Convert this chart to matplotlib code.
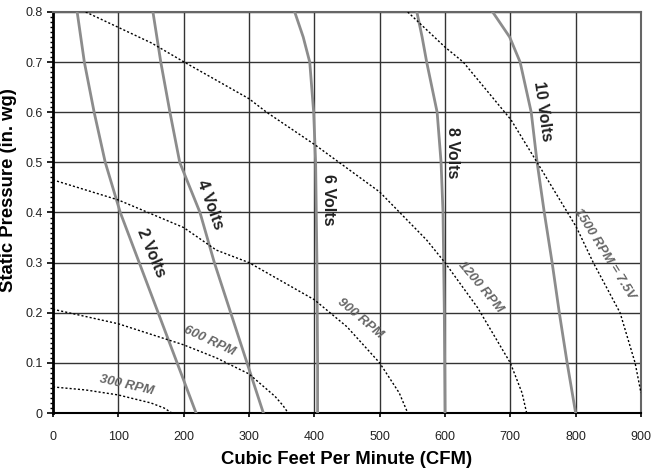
import matplotlib.pyplot as plt
from matplotlib.ticker import MultipleLocator

plt.rcParams['font.family'] = ['Liberation Sans', 'DejaVu Sans']

# voltage curves (CFM, static pressure)
v2_x = [37, 48, 63, 80, 103, 132, 161, 190, 219]
v2_y = [0.8, 0.7, 0.6, 0.5, 0.4, 0.3, 0.2, 0.1, 0.0]
v4_x = [153, 165, 179, 194, 225, 247, 272, 297, 322]
v4_y = [0.8, 0.7, 0.6, 0.5, 0.4, 0.3, 0.2, 0.1, 0.0]
v6_x = [370, 383, 393, 399, 402, 404, 405, 405]
v6_y = [0.8, 0.75, 0.7, 0.6, 0.5, 0.3, 0.1, 0.0]
v8_x = [557, 565, 572, 588, 594, 597, 599, 600]
v8_y = [0.8, 0.75, 0.7, 0.6, 0.5, 0.4, 0.2, 0.0]
v10_x = [673, 699, 715, 732, 741, 752, 764, 775, 787, 800]
v10_y = [0.8, 0.75, 0.7, 0.6, 0.5, 0.4, 0.3, 0.2, 0.1, 0.0]

# fan speed curves
r300_x = [0, 50, 100, 150, 170, 182]
r300_y = [0.052, 0.046, 0.036, 0.02, 0.01, 0.0]
r600_x = [0, 100, 200, 250, 300, 340, 352, 360]
r600_y = [0.207, 0.178, 0.136, 0.11, 0.078, 0.033, 0.015, 0.0]
r900_x = [0, 100, 200, 250, 300, 400, 450, 500, 530, 543]
r900_y = [0.465, 0.425, 0.37, 0.325, 0.3, 0.226, 0.172, 0.1, 0.04, 0.0]
r1200_x = [50, 151, 201, 300, 327, 401, 500, 572, 600, 650, 700, 718, 725]
r1200_y = [0.8, 0.738, 0.70, 0.627, 0.6, 0.535, 0.441, 0.345, 0.3, 0.21, 0.1, 0.04, 0.0]
r1500_x = [543, 600, 628, 701, 741, 801, 827, 868, 891, 900]
r1500_y = [0.8, 0.73, 0.7, 0.585, 0.5, 0.371, 0.3, 0.2, 0.1, 0.04]

volt_labels = ['2 Volts', '4 Volts', '6 Volts', '8 Volts', '10 Volts']
rpm_labels = ['300 RPM', '600 RPM', '900 RPM', '1200 RPM', '1500 RPM = 7.5V']

fig = plt.figure(figsize=(6.51, 4.68), dpi=100)
ax = fig.add_axes([0.0814, 0.1175, 0.9032, 0.8569])

for xs, ys in [(v2_x, v2_y), (v4_x, v4_y), (v6_x, v6_y), (v8_x, v8_y), (v10_x, v10_y)]:
    ax.plot(xs, ys, color='#8c8c8c', lw=2, zorder=3)

for xs, ys in [(r300_x, r300_y), (r600_x, r600_y), (r900_x, r900_y),
               (r1200_x, r1200_y), (r1500_x, r1500_y)]:
    ax.plot(xs, ys, color='black', lw=1, ls=(0, (1.5, 1.5)), zorder=4)

# labels on curves
vpos = [(151, 0.319, -67), (240, 0.415, -70), (422, 0.425, -90), (612, 0.519, -90), (750, 0.601, -82)]
for lab, (x, y, r) in zip(volt_labels, vpos):
    ax.text(x, y, lab, rotation=r, fontsize=11.5, fontweight='bold', color='#222222',
            ha='center', va='center', zorder=5)

rpos = [(113, 0.056, -13), (240, 0.144, -25), (470, 0.188, -40), (655, 0.252, -50), (844, 0.317, -58)]
for lab, (x, y, r) in zip(rpm_labels, rpos):
    ax.text(x, y, lab, rotation=r, fontsize=9.5, fontweight='heavy', fontstyle='italic',
            color='#666666', ha='center', va='center', zorder=5)

ax.set_xlim(0, 900)
ax.set_ylim(0, 0.8)
ax.xaxis.set_major_locator(MultipleLocator(100))
ax.yaxis.set_minor_locator(MultipleLocator(0.01))
ax.set_yticks([0, 0.1, 0.2, 0.3, 0.4, 0.5, 0.6, 0.7, 0.8])
ax.set_yticklabels(['0', '0.1', '0.2', '0.3', '0.4', '0.5', '0.6', '0.7', '0.8'])
ax.grid(True, which='major', color='#333333', lw=1)
ax.tick_params(axis='both', which='major', labelsize=9, labelcolor='#222222', length=4, width=1.2)
ax.tick_params(axis='x', which='major', length=3, pad=10)
ax.tick_params(axis='y', which='minor', length=2, width=1)
ax.spines['left'].set_linewidth(2)
ax.spines['bottom'].set_linewidth(1.5)
ax.spines['top'].set_color('#666666')
ax.spines['top'].set_linewidth(1.5)
ax.spines['right'].set_color('#666666')
ax.spines['right'].set_linewidth(1.5)

ax.set_xlabel('Cubic Feet Per Minute (CFM)', fontsize=13.3, fontweight='bold', labelpad=6)
ax.set_ylabel('Static Pressure (in. wg)', fontsize=13.3, fontweight='bold', labelpad=6)
ax.yaxis.set_label_coords(-0.062, 0.556)

fig.savefig('out.png', dpi=100)
